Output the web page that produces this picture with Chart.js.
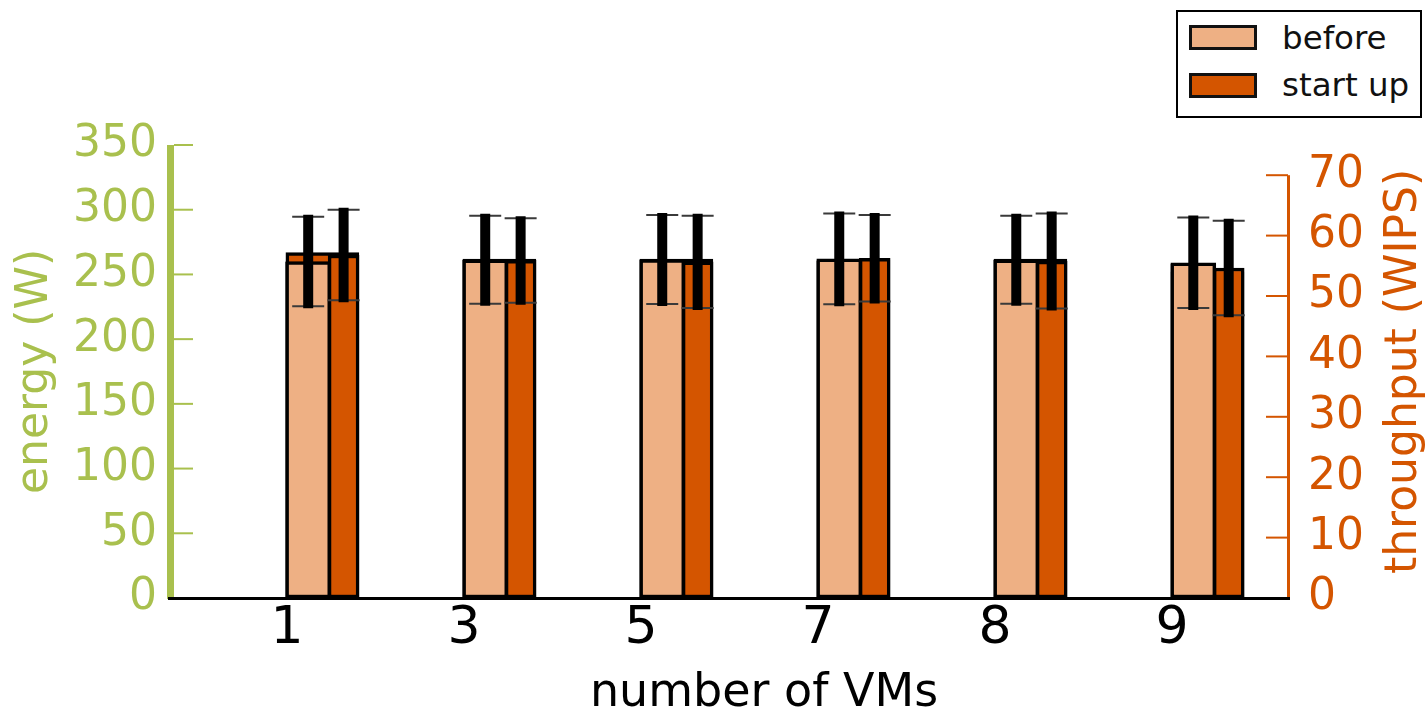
<!DOCTYPE html>
<html>
<head>
<meta charset="utf-8">
<title>energy and throughput per number of VMs</title>
<script src="https://cdn.jsdelivr.net/npm/chart.js@4.4.0/dist/chart.umd.min.js"></script>
<style>
  body { margin: 0; background: #fff; }
  #wrap { position: relative; width: 1427px; height: 713px; font-family: "DejaVu Sans", sans-serif; }
  #chart { position: absolute; left: 0; top: 0; }
  #xtitle { position: absolute; white-space: nowrap; font-size: 46px; line-height: 46px; left: 764px; top: 667px; color: #000; transform: translateX(-50%); }
  #legend { position: absolute; left: 1176px; top: 10px; width: 242px; height: 104px; border: 2px solid #000; background: #fff; }
  .swatch { position: absolute; left: 11px; width: 62px; height: 19px; border: 3px solid #111; }
  .label { position: absolute; left: 104px; font-size: 32.5px; line-height: 32.5px; color: #111; white-space: nowrap; }
</style>
</head>
<body>
<div id="wrap">
  <canvas id="chart" width="1427" height="713"></canvas>
  <div id="xtitle">number of VMs</div>
  <div id="legend">
    <div class="swatch" style="top: 13px; background: #eeb084;"></div>
    <div class="label" style="top: 10px;">before</div>
    <div class="swatch" style="top: 61px; background: #d45500;"></div>
    <div class="label" style="top: 57px;">start up</div>
  </div>
</div>
<script>
// values
const categories = ['1', '3', '5', '7', '8', '9'];

const energyBefore = [260.0, 261.3, 261.5, 262.0, 261.3, 259.0];
const energyBeforeErr = [34.5, 34.0, 34.4, 35.0, 34.0, 35.0];
const energyStartUp = [265.0, 260.8, 259.7, 262.5, 260.3, 255.0];
const energyStartUpErr = [35.0, 32.6, 35.7, 33.5, 36.7, 36.5];

const throughputBefore = [55.6, 55.9, 55.9, 55.8, 55.9, 55.3];
const throughputStartUp = [57.2, 56.1, 56.1, 56.0, 56.1, 54.0];

const energyTicks = [0, 50, 100, 150, 200, 250, 300, 350];
const throughputTicks = [0, 10, 20, 30, 40, 50, 60, 70];

const energyTitle = 'energy (W)';
const throughputTitle = 'throughput (WIPS)';

const LIGHT = '#eeb084';
const DARK = '#d45500';
const GREEN = '#a9c04e';

function points(values, offset) {
    return values.map((v, i) => ({ x: i + offset, y: v }));
}

// spines, inward ticks, error bars and the right axis title (matplotlib reads it bottom to top)
const axesPlugin = {
    id: 'axesPlugin',
    afterDatasetsDraw(chart) {
        const ctx = chart.ctx;
        const area = chart.chartArea;
        const yl = chart.scales.y;
        const yr = chart.scales.y1;

        const errSets = [[2, energyBefore, energyBeforeErr], [3, energyStartUp, energyStartUpErr]];
        errSets.forEach(([idx, vals, errs]) => {
            chart.getDatasetMeta(idx).data.forEach((bar, i) => {
                const top = yl.getPixelForValue(vals[i] + errs[i]);
                const bottom = yl.getPixelForValue(vals[i] - errs[i]);
                ctx.save();
                ctx.strokeStyle = '#3a3a3a';
                ctx.lineWidth = 2;
                ctx.beginPath();
                ctx.moveTo(bar.x - 16, top); ctx.lineTo(bar.x + 16, top);
                ctx.moveTo(bar.x - 16, bottom); ctx.lineTo(bar.x + 16, bottom);
                ctx.stroke();
                ctx.strokeStyle = '#000';
                ctx.lineWidth = 10;
                ctx.beginPath();
                ctx.moveTo(bar.x, top - 2); ctx.lineTo(bar.x, bottom + 2);
                ctx.stroke();
                ctx.restore();
            });
        });

        ctx.save();
        // left spine + ticks
        const lTop = yl.getPixelForValue(energyTicks[energyTicks.length - 1]);
        ctx.fillStyle = GREEN;
        ctx.fillRect(area.left - 1, lTop, 7, area.bottom - lTop + 1);
        ctx.strokeStyle = GREEN;
        ctx.lineWidth = 2;
        energyTicks.forEach(v => {
            const y = yl.getPixelForValue(v);
            ctx.beginPath(); ctx.moveTo(area.left + 6, y); ctx.lineTo(area.left + 25, y); ctx.stroke();
        });
        // right spine + ticks
        const rTop = yr.getPixelForValue(throughputTicks[throughputTicks.length - 1]);
        ctx.fillStyle = DARK;
        ctx.fillRect(area.right - 1, rTop, 3, area.bottom - rTop + 1);
        ctx.strokeStyle = DARK;
        throughputTicks.forEach(v => {
            const y = yr.getPixelForValue(v);
            ctx.beginPath(); ctx.moveTo(area.right - 22, y); ctx.lineTo(area.right, y); ctx.stroke();
        });
        // bottom spine
        ctx.strokeStyle = '#000';
        ctx.lineWidth = 3;
        ctx.beginPath(); ctx.moveTo(area.left, area.bottom + 0.5); ctx.lineTo(area.right + 2, area.bottom + 0.5); ctx.stroke();

        // right title
        ctx.translate(yr.right - 22, yr.getPixelForValue(37.5));
        ctx.rotate(-Math.PI / 2);
        ctx.fillStyle = DARK;
        ctx.font = '44px "DejaVu Sans"';
        ctx.textAlign = 'center';
        ctx.textBaseline = 'middle';
        ctx.fillText(throughputTitle, 0, 0);
        ctx.restore();
    }
};

const ctx = document.getElementById('chart').getContext('2d');
new Chart(ctx, {
    type: 'bar',
    data: {
        datasets: [
            { label: 'start up', data: points(throughputStartUp, 0.2), yAxisID: 'y1', backgroundColor: DARK, barThickness: 73, order: 4 },
            { label: 'before', data: points(throughputBefore, 0.12), yAxisID: 'y1', backgroundColor: LIGHT, barThickness: 45, order: 3 },
            { label: 'before', data: points(energyBefore, 0.12), yAxisID: 'y', backgroundColor: LIGHT, barThickness: 45, order: 2 },
            { label: 'start up', data: points(energyStartUp, 0.32), yAxisID: 'y', backgroundColor: DARK, barThickness: 31, order: 1 }
        ]
    },
    options: {
        responsive: false,
        animation: false,
        layout: { padding: { top: 145, left: 0, right: 0, bottom: 0 } },
        datasets: {
            bar: { grouped: false, borderColor: '#000', borderWidth: 3.5, borderSkipped: false }
        },
        plugins: {
            legend: { display: false },
            tooltip: { enabled: false }
        },
        scales: {
            x: {
                type: 'linear',
                min: -0.672,
                max: 5.655,
                offset: false,
                grid: { display: false, drawTicks: false },
                border: { display: false },
                afterBuildTicks: scale => { scale.ticks = categories.map((c, i) => ({ value: i })); },
                afterFit: scale => { scale.height = 115; },
                ticks: {
                    padding: 0,
                    color: '#000',
                    font: { family: 'DejaVu Sans', size: 52 },
                    callback: value => categories[value]
                }
            },
            y: {
                position: 'left',
                min: 0,
                max: 350,
                grid: { display: false, drawTicks: false },
                border: { display: false },
                title: {
                    display: true,
                    text: energyTitle,
                    color: GREEN,
                    font: { family: 'DejaVu Sans', size: 44 },
                    padding: { top: 9, bottom: 0 }
                },
                afterBuildTicks: scale => { scale.ticks = energyTicks.map(v => ({ value: v })); },
                afterFit: scale => { scale.width = 168; },
                ticks: { padding: 11, color: GREEN, font: { family: 'DejaVu Sans', size: 44 } }
            },
            y1: {
                position: 'right',
                min: 0,
                max: 75,
                grid: { display: false, drawTicks: false },
                border: { display: false },
                afterBuildTicks: scale => { scale.ticks = throughputTicks.map(v => ({ value: v })); },
                afterFit: scale => { scale.width = 139; },
                ticks: { padding: 20, color: DARK, font: { family: 'DejaVu Sans', size: 44 } }
            }
        }
    },
    plugins: [axesPlugin]
});
</script>
</body>
</html>
